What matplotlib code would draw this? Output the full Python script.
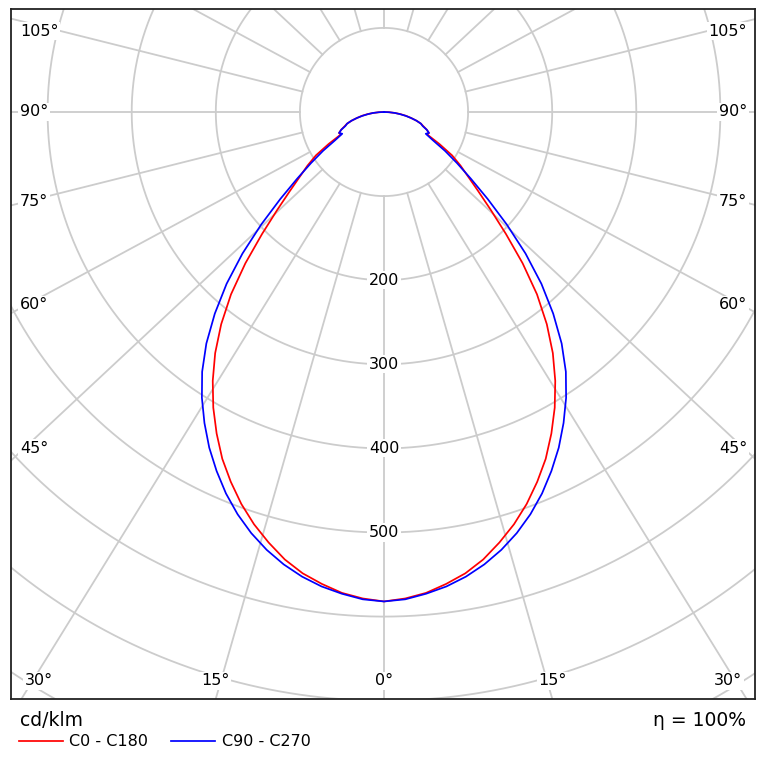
import numpy as np
import matplotlib
matplotlib.use('Agg')
import matplotlib.pyplot as plt

# ---------------- data (cd/klm) ----------------
gamma = [0, 2.5, 5, 7.5, 10, 12.5, 15, 17.5, 20, 22.5, 25, 27.5, 30, 32.5, 35,
         37.5, 40, 42.5, 45, 47.5, 50, 52.5, 55, 57.5, 60, 62.5, 65, 67.5, 70,
         72.5, 75, 77.5, 80, 82.5, 85, 87.5, 90]
c0_c180 = [582, 579, 574, 566, 557, 545, 530, 514, 496, 476, 455, 431, 406, 379, 350,
           318, 283, 244, 205, 172, 146, 126, 111, 96, 76, 58, 59, 55, 50,
           46, 40, 33, 27, 20, 13, 6, 0]
c90_c270 = [582, 580, 575, 569, 561, 551, 539, 525, 509, 491, 471, 450, 427, 403, 377,
            347, 313, 277, 238, 198, 161, 130, 106, 86, 67, 56, 59, 55, 49,
            46, 40, 33, 26, 19, 13, 6, 0]
series_names = ['C0 - C180', 'C90 - C270']
series_colors = ['#ff0000', '#0000ff']

ring_values = [100, 200, 300, 400, 500, 600, 700, 800, 900, 1000]
ring_labels = [200, 300, 400, 500]
spoke_angles = list(range(0, 360, 15))
side_angle_labels = [45, 60, 75, 90, 105]
bottom_angle_labels = [0, 15, 30]
unit_label = 'cd/klm'
efficiency_label = '\u03b7 = 100%'

# ---------------- layout ----------------
W, H = 767, 777
fig = plt.figure(figsize=(W / 100, H / 100), dpi=100)
L, R, T, B = 11, 755, 9, 699          # frame in pixels
ax = fig.add_axes([L / W, (H - B) / H, (R - L) / W, (B - T) / H])
cx, cy = 384, 112                      # polar centre in pixels
k = 0.841                              # pixels per cd/klm
S = 1.07                               # horizontal stretch of the spokes (as in reference)

ax.set_xlim((L - cx) / k, (R - cx) / k)
ax.set_ylim(-(B - cy) / k, (cy - T) / k)
ax.set_xticks([])
ax.set_yticks([])
for sp in ax.spines.values():
    sp.set_color('#222222')
    sp.set_linewidth(1.3)

grid_c = '#cccccc'
grid_lw = 1.3

# rings
th = np.linspace(0, 2 * np.pi, 1441)
for rv in ring_values:
    ax.plot(rv * np.sin(th), rv * np.cos(th), color=grid_c, lw=grid_lw, zorder=1)

# spokes (start at first ring)
for a in spoke_angles:
    ar = np.radians(a)
    d = np.array([S * np.sin(ar), -np.cos(ar)])
    d /= np.hypot(*d)
    r0, r1 = ring_values[0], 3000
    ax.plot([r0 * d[0], r1 * d[0]], [r0 * d[1], r1 * d[1]],
            color=grid_c, lw=grid_lw, zorder=1)

lab_kw = dict(fontsize=11.5, color='black', zorder=4,
              bbox=dict(facecolor='white', edgecolor='none', pad=1.2))

# ring labels
for rv in ring_labels:
    ax.text(0, -rv, str(rv), ha='center', va='center', **lab_kw)

def px2d(px, py):
    return (px - cx) / k, -(py - cy) / k

# side angle labels
for a in side_angle_labels:
    ar = np.radians(a)
    t = (R - cx) / (S * np.sin(ar))
    py = cy + t * np.cos(ar) - 15 * np.cos(ar)
    py = max(py, 31)
    xl, yl = px2d(20, py)
    ax.text(xl, yl, f'{a}\u00b0', ha='left', va='center', **lab_kw)
    xr, yr = px2d(747, py)
    ax.text(xr, yr, f'{a}\u00b0', ha='right', va='center', **lab_kw)

# bottom angle labels
for a in bottom_angle_labels:
    ar = np.radians(a)
    t = (B - cy) / np.cos(ar)
    off = t * S * np.sin(ar)
    for sgn in ([1] if a == 0 else [-1, 1]):
        px = cx + sgn * off
        px = min(max(px, 39), 728)
        xx, yy = px2d(px, 681)
        ax.text(xx, yy, f'{a}\u00b0', ha='center', va='center', **lab_kw)

# curves
g = np.radians(np.array(gamma, dtype=float))
g_full = np.concatenate([-g[::-1], g[1:]])
for vals, col, name in zip([c0_c180, c90_c270], series_colors, series_names):
    v = np.array(vals, dtype=float)
    v_full = np.concatenate([v[::-1], v[1:]])
    ax.plot(v_full * np.sin(g_full), -v_full * np.cos(g_full),
            color=col, lw=1.25, zorder=3, label=name, solid_joinstyle='round')

# texts below the frame
fig.text(20 / W, (H - 721) / H, unit_label, fontsize=13.5, ha='left', va='center')
fig.text(746 / W, (H - 721) / H, efficiency_label, fontsize=13.5, ha='right', va='center')

handles, labels = ax.get_legend_handles_labels()
fig.legend(handles, labels, loc='center left', bbox_to_anchor=(19 / W, (H - 742) / H),
           ncol=2, frameon=False, fontsize=11.5, handlelength=2.75, handletextpad=0.4,
           columnspacing=1.45, borderpad=0, borderaxespad=0)

fig.savefig('out.png', dpi=100, facecolor='white')
